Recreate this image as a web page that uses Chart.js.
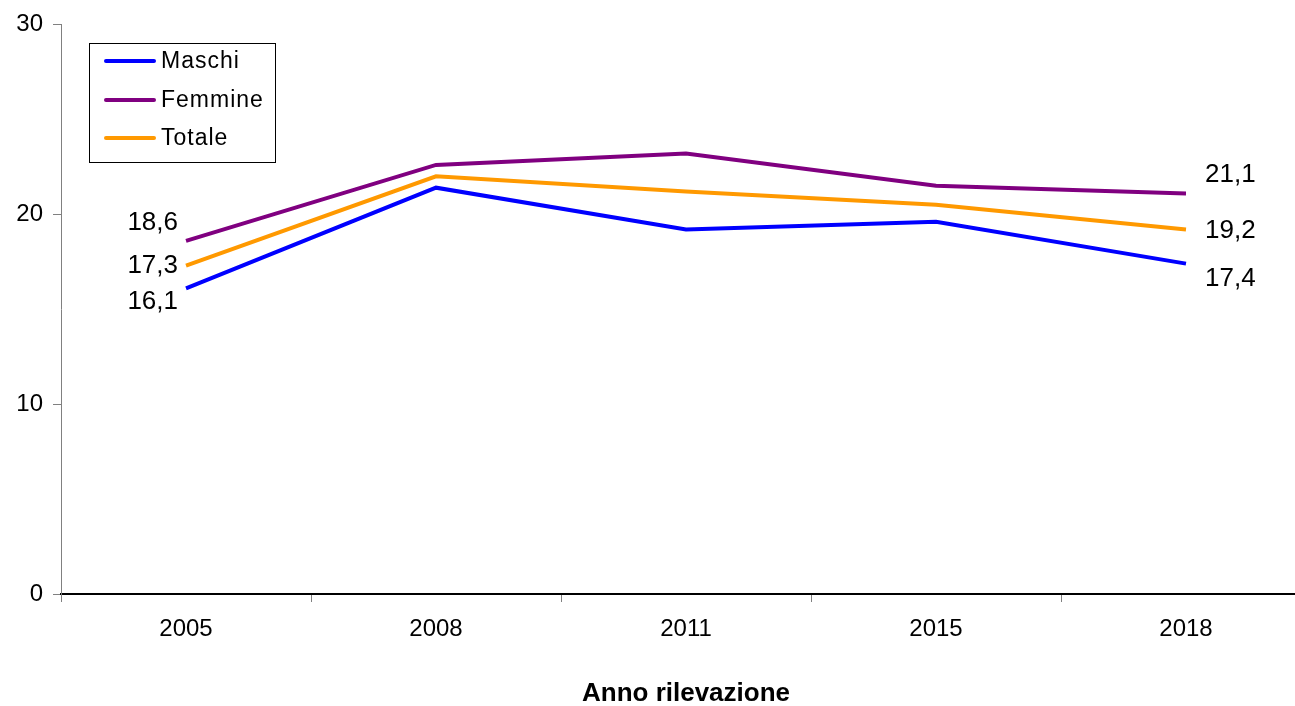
<!DOCTYPE html>
<html>
<head>
<meta charset="utf-8">
<script src="https://cdn.jsdelivr.net/npm/chart.js@4"></script>
<style>
html,body{margin:0;padding:0;background:#fff;overflow:hidden;}
#wrap{position:relative;width:1320px;height:706px;}
</style>
</head>
<body>
<div id="wrap"><canvas id="c"></canvas></div>
<script>
const categories = ['2005','2008','2011','2015','2018'];
const maschi  = [16.1, 21.4, 19.2, 19.6, 17.4];
const femmine = [18.6, 22.6, 23.2, 21.5, 21.1];
const totale  = [17.3, 22.0, 21.2, 20.5, 19.2];
const seriesNames = ['Maschi','Femmine','Totale'];
const yTicks = [0, 10, 20, 30];
const axisTitle = 'Anno rilevazione';

const FONT = "'Liberation Sans', Arial, sans-serif";

// label offsets (style): [dx, dy, align] for first and last point per series
const labelStyle = {
  0: {first:[-8, 14, 'right'], last:[19, 15, 'left']},
  1: {first:[-8, -18, 'right'], last:[19, -19, 'left']},
  2: {first:[-8, 0, 'right'], last:[19, 1, 'left']}
};

const endLabels = {
  id:'endLabels',
  afterDatasetsDraw(chart){
    const ctx = chart.ctx;
    ctx.save();
    ctx.font = '26px ' + FONT;
    ctx.fillStyle = '#000';
    ctx.textBaseline = 'middle';
    chart.data.datasets.forEach((ds, i) => {
      const meta = chart.getDatasetMeta(i);
      const st = labelStyle[i];
      [[0, st.first],[ds.data.length-1, st.last]].forEach(([idx, s]) => {
        const p = meta.data[idx];
        ctx.textAlign = s[2];
        ctx.fillText(ds.data[idx].toFixed(1).replace('.', ','), p.x + s[0], p.y + s[1]);
      });
    });
    ctx.restore();
  }
};

const boxLegend = {
  id:'boxLegend',
  afterDraw(chart){
    const ctx = chart.ctx;
    ctx.save();
    ctx.strokeStyle = '#000';
    ctx.lineWidth = 1;
    ctx.strokeRect(89.5, 43.5, 186, 119);
    ctx.font = '23px ' + FONT;
    ctx.textBaseline = 'middle';
    ctx.textAlign = 'left';
    try { ctx.letterSpacing = '1px'; } catch(e) {}
    const ys = [61, 100, 138];
    chart.data.datasets.forEach((ds, i) => {
      ctx.strokeStyle = ds.borderColor;
      ctx.lineWidth = 4;
      ctx.lineCap = 'round';
      ctx.beginPath();
      ctx.moveTo(106, ys[i]);
      ctx.lineTo(154, ys[i]);
      ctx.stroke();
      ctx.fillStyle = '#000';
      ctx.fillText(ds.label, 161, ys[i] + 1);
    });
    ctx.restore();
  }
};

const colors = ['#0000FF', '#800080', '#FF9900'];
const seriesData = [maschi, femmine, totale];

new Chart(document.getElementById('c'), {
  type: 'line',
  data: {
    labels: categories,
    datasets: seriesData.map((d, i) => ({
      label: seriesNames[i],
      data: d,
      borderColor: colors[i],
      backgroundColor: colors[i],
      borderWidth: 4,
      pointRadius: 0,
      tension: 0,
      fill: false
    }))
  },
  options: {
    responsive: true,
    maintainAspectRatio: false,
    animation: false,
    layout: {padding: {left: 0, top: 24, right: 9, bottom: 0}},
    plugins: {legend: {display: false}, tooltip: {enabled: false}},
    scales: {
      x: {
        type: 'category',
        offset: true,
        grid: {offset: true, drawOnChartArea: false, drawTicks: true, tickLength: 8, color: '#808080'},
        border: {color: '#000', width: 2},
        ticks: {color: '#000', font: {family: FONT, size: 24}, padding: 13, maxRotation: 0},
        title: {display: true, text: axisTitle, color: '#000', font: {family: FONT, size: 26, weight: 'bold'}, padding: {top: 20, bottom: -3}},
        afterFit(s){ s.height = 112; }
      },
      y: {
        min: 0, max: 30,
        afterBuildTicks(s){ s.ticks = yTicks.map(v => ({value: v})); },
        grid: {drawOnChartArea: false, drawTicks: true, tickLength: 8, color: '#808080'},
        border: {color: '#808080', width: 1},
        ticks: {color: '#000', font: {family: FONT, size: 24}, padding: 10},
        afterFit(s){ s.width = 61; }
      }
    }
  },
  plugins: [endLabels, boxLegend]
});
</script>
</body>
</html>
